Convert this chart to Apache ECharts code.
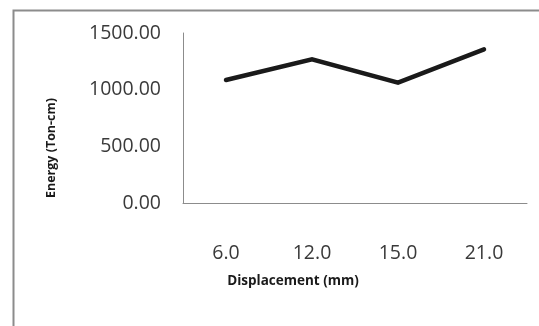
<!DOCTYPE html>
<html>
<head>
<meta charset="utf-8">
<script src="https://cdn.jsdelivr.net/npm/echarts@6/dist/echarts.min.js"></script>
<style>
  html, body { margin: 0; padding: 0; background: #fff; }
  #chart { width: 539px; height: 326px; }
</style>
</head>
<body>
<div id="chart"></div>
<script>
// data
var displacement = ['6.0', '12.0', '15.0', '21.0'];
var energy = [1085, 1268, 1062, 1356];
var yTicks = [0, 500, 1000, 1500];

var myChart = echarts.init(document.getElementById('chart'));

var option = {
    backgroundColor: '#ffffff',
    animation: false,
    // chart frame (right/bottom edges fall outside the window)
    graphic: [{
        type: 'rect',
        left: 11, top: 8,
        shape: { width: 620, height: 420 },
        style: { fill: 'none', stroke: '#8c8c8c', lineWidth: 2 },
        z: -1
    }],
    grid: {
        left: 183,
        right: 12,
        top: 33,
        bottom: 123
    },
    xAxis: {
        type: 'category',
        data: displacement,
        boundaryGap: true,
        axisLine: { lineStyle: { color: '#8c8c8c', width: 1 } },
        axisTick: { show: false },
        axisLabel: {
            margin: 40,
            fontFamily: 'Open Sans',
            fontSize: 19.5,
            color: '#3a3a3a'
        },
        name: 'Displacement (mm)',
        nameLocation: 'middle',
        nameGap: 71,
        nameTextStyle: {
            fontFamily: 'Open Sans',
            fontWeight: 'bold',
            fontSize: 13.5,
            color: '#1a1a1a',
            padding: [0, 124, 0, 0]
        }
    },
    yAxis: {
        type: 'value',
        min: yTicks[0],
        max: yTicks[yTicks.length - 1],
        interval: 500,
        axisLine: { show: true, lineStyle: { color: '#8c8c8c', width: 1 } },
        axisTick: { show: false },
        splitLine: { show: false },
        axisLabel: {
            margin: 22,
            fontFamily: 'Open Sans',
            fontSize: 19.5,
            color: '#3a3a3a',
            formatter: function (v) { return v.toFixed(2); }
        },
        name: 'Energy (Ton-cm)',
        nameLocation: 'middle',
        nameGap: 125,
        nameTextStyle: {
            fontFamily: 'Open Sans',
            fontWeight: 'bold',
            fontSize: 12.5,
            color: '#1a1a1a',
            padding: [0, 60, 0, 0]
        }
    },
    series: [{
        type: 'line',
        data: energy,
        symbol: 'none',
        lineStyle: { color: '#1a1a1a', width: 4.5, cap: 'round', join: 'miter' }
    }]
};

myChart.setOption(option);
</script>
</body>
</html>
